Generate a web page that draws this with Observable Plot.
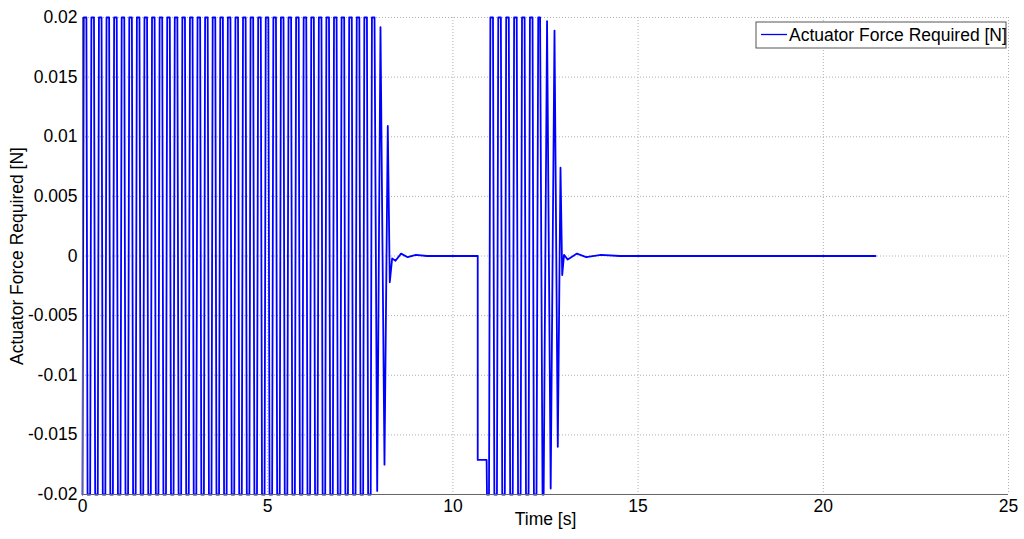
<!DOCTYPE html>
<html>
<head>
<meta charset="utf-8">
<script src="https://cdn.jsdelivr.net/npm/d3@7"></script>
<script src="https://cdn.jsdelivr.net/npm/@observablehq/plot@0.6"></script>
<style>
  html, body { margin: 0; padding: 0; background: #fff; }
  #chart { width: 1024px; height: 539px; }
</style>
</head>
<body>
<div id="chart"></div>
<script>
// ---- Data ----
const xTicks = [0, 5, 10, 15, 20, 25];
const yTicks = [-0.02, -0.015, -0.01, -0.005, 0, 0.005, 0.01, 0.015, 0.02];
const yTickLabels = ["-0.02", "-0.015", "-0.01", "-0.005", "0", "0.005", "0.01", "0.015", "0.02"];
const xLabel = "Time [s]";
const yLabel = "Actuator Force Required [N]";
const seriesName = "Actuator Force Required [N]";

// First burst (vertices of the saturated oscillation and its decay), seconds
const burst1Time = [
  0,
  0.035, 0.105, 0.137, 0.207,
  0.240, 0.310, 0.342, 0.412,
  0.444, 0.514, 0.547, 0.617,
  0.649, 0.719, 0.751, 0.821,
  0.854, 0.924, 0.956, 1.026,
  1.058, 1.128, 1.161, 1.231,
  1.263, 1.333, 1.366, 1.436,
  1.468, 1.538, 1.570, 1.640,
  1.673, 1.743, 1.775, 1.845,
  1.877, 1.947, 1.980, 2.050,
  2.082, 2.152, 2.184, 2.254,
  2.287, 2.357, 2.389, 2.459,
  2.491, 2.561, 2.594, 2.664,
  2.696, 2.766, 2.799, 2.869,
  2.901, 2.971, 3.003, 3.073,
  3.106, 3.176, 3.208, 3.278,
  3.310, 3.380, 3.413, 3.483,
  3.515, 3.585, 3.617, 3.687,
  3.720, 3.790, 3.822, 3.892,
  3.924, 3.994, 4.027, 4.097,
  4.129, 4.199, 4.231, 4.301,
  4.334, 4.404, 4.436, 4.506,
  4.538, 4.608, 4.641, 4.711,
  4.743, 4.813, 4.846, 4.916,
  4.948, 5.018, 5.050, 5.120,
  5.153, 5.223, 5.255, 5.325,
  5.357, 5.427, 5.460, 5.530,
  5.562, 5.632, 5.664, 5.734,
  5.767, 5.837, 5.869, 5.939,
  5.971, 6.041, 6.074, 6.144,
  6.176, 6.246, 6.278, 6.348,
  6.381, 6.451, 6.483, 6.553,
  6.585, 6.655, 6.688, 6.758,
  6.790, 6.860, 6.893, 6.963,
  6.995, 7.065, 7.097, 7.167,
  7.200, 7.270, 7.302, 7.372,
  7.404, 7.474, 7.507, 7.577,
  7.609, 7.679, 7.711, 7.781,
  7.814, 7.884,
  7.956, 8.045, 8.153, 8.242, 8.296, 8.36, 8.45, 8.60, 8.78, 9.00, 9.30, 10.67
];
const burst1Force = [
  -0.02,
  0.02, 0.02, -0.02, -0.02,  0.02, 0.02, -0.02, -0.02,  0.02, 0.02, -0.02, -0.02,  0.02, 0.02, -0.02, -0.02,
  0.02, 0.02, -0.02, -0.02,  0.02, 0.02, -0.02, -0.02,  0.02, 0.02, -0.02, -0.02,  0.02, 0.02, -0.02, -0.02,
  0.02, 0.02, -0.02, -0.02,  0.02, 0.02, -0.02, -0.02,  0.02, 0.02, -0.02, -0.02,  0.02, 0.02, -0.02, -0.02,
  0.02, 0.02, -0.02, -0.02,  0.02, 0.02, -0.02, -0.02,  0.02, 0.02, -0.02, -0.02,  0.02, 0.02, -0.02, -0.02,
  0.02, 0.02, -0.02, -0.02,  0.02, 0.02, -0.02, -0.02,  0.02, 0.02, -0.02, -0.02,  0.02, 0.02, -0.02, -0.02,
  0.02, 0.02, -0.02, -0.02,  0.02, 0.02, -0.02, -0.02,  0.02, 0.02, -0.02, -0.02,  0.02, 0.02, -0.02, -0.02,
  0.02, 0.02, -0.02, -0.02,  0.02, 0.02, -0.02, -0.02,  0.02, 0.02, -0.02, -0.02,  0.02, 0.02, -0.02, -0.02,
  0.02, 0.02, -0.02, -0.02,  0.02, 0.02, -0.02, -0.02,  0.02, 0.02, -0.02, -0.02,  0.02, 0.02, -0.02, -0.02,
  0.02, 0.02, -0.02, -0.02,  0.02, 0.02, -0.02, -0.02,  0.02, 0.02, -0.02, -0.02,  0.02, 0.02, -0.02, -0.02,
  0.02, 0.02, -0.02, -0.02,  0.02, 0.02, -0.02, -0.02,
  0.02, 0.02,
  -0.0197, 0.0192, -0.0175, 0.0109, -0.0022, -0.0002, -0.0004, 0.0002, -0.0001, 0.0001, 0, 0
];

// Second burst (step down, saturated oscillation, decay and flat tail), seconds
const burst2Time = [
  10.67, 10.91, 10.92, 10.975, 11.012, 11.082, 11.119, 11.189, 11.225, 11.295,
  11.332, 11.402, 11.439, 11.509, 11.546, 11.616, 11.653, 11.723, 11.759, 11.829,
  11.866, 11.936, 11.973, 12.043, 12.080, 12.150, 12.187, 12.257, 12.304, 12.354,
  12.420, 12.450, 12.542, 12.640, 12.743, 12.832, 12.905, 12.951, 13.00, 13.10,
  13.35, 13.60, 14.00, 14.50, 21.41
];
const burst2Force = [
  -0.0171, -0.0171, -0.02, -0.02, 0.02, 0.02, -0.02, -0.02, 0.02, 0.02,
  -0.02, -0.02, 0.02, 0.02, -0.02, -0.02, 0.02, 0.02, -0.02, -0.02,
  0.02, 0.02, -0.02, -0.02, 0.02, 0.02, -0.02, -0.02, 0.02, 0.02,
  -0.02, -0.02, 0.0197, -0.0195, 0.0189, -0.016, 0.0074, -0.0016, 0.0001, -0.0003,
  0.0002, -0.0001, 0.0001, 0, 0
];

// ---- Build table ----
const data = [];
burst1Time.forEach((t, i) => data.push({t, f: burst1Force[i]}));
burst2Time.forEach((t, i) => data.push({t, f: burst2Force[i]}));

const FONT = "'Liberation Sans', Arial, Helvetica, sans-serif";
const FS = 17.5;
const labelOf = new Map(yTicks.map((v, i) => [v, yTickLabels[i]]));

const svg = Plot.plot({
  width: 1024,
  height: 539,
  marginLeft: 82,
  marginRight: 16,
  marginTop: 17,
  marginBottom: 45,
  x: {domain: [0, 25]},
  y: {domain: [-0.02, 0.02]},
  style: {fontFamily: FONT, fontSize: FS + "px", color: "#000", background: "#fff"},
  marks: [
    Plot.gridX({ticks: xTicks, stroke: "#b0b0b0", strokeOpacity: 1, strokeDasharray: "1,2"}),
    Plot.gridY({ticks: yTicks, stroke: "#b0b0b0", strokeOpacity: 1, strokeDasharray: "1,2"}),
    Plot.line(data, {x: "t", y: "f", stroke: "#0000ff", strokeWidth: 1.8}),
    Plot.ruleX([0], {stroke: "#666", strokeWidth: 1}),
    Plot.ruleY([-0.02], {stroke: "#666", strokeWidth: 1}),
    Plot.axisX({ticks: xTicks, tickSize: 0, tickPadding: 5, label: null, tickFormat: d => String(d)}),
    Plot.axisY({ticks: yTicks, tickSize: 0, tickPadding: 5, label: null, tickFormat: d => labelOf.get(d) ?? String(d)}),
    Plot.text([xLabel], {frameAnchor: "bottom", dy: 30, fontSize: FS, textAnchor: "middle"}),
    Plot.text([yLabel], {frameAnchor: "left", rotate: -90, dx: -65, fontSize: FS, textAnchor: "middle"})
  ]
});

document.getElementById("chart").appendChild(svg);

// ---- Legend (MATLAB-style box, top right inside the axes) ----
const s = d3.select(svg);
const lg = s.append("g").attr("class", "legend").attr("text-anchor", "start");
lg.append("rect").attr("x", 756).attr("y", 22).attr("width", 250).attr("height", 26)
  .attr("fill", "#fff").attr("stroke", "#555").attr("stroke-width", 1);
lg.append("line").attr("x1", 761).attr("x2", 787).attr("y1", 34.5).attr("y2", 34.5)
  .attr("stroke", "#0000ff").attr("stroke-width", 1.3);
lg.append("text").attr("x", 789).attr("y", 41).attr("font-family", FONT).attr("font-size", FS)
  .attr("text-anchor", "start").attr("fill", "#000").text(seriesName);
</script>
</body>
</html>
